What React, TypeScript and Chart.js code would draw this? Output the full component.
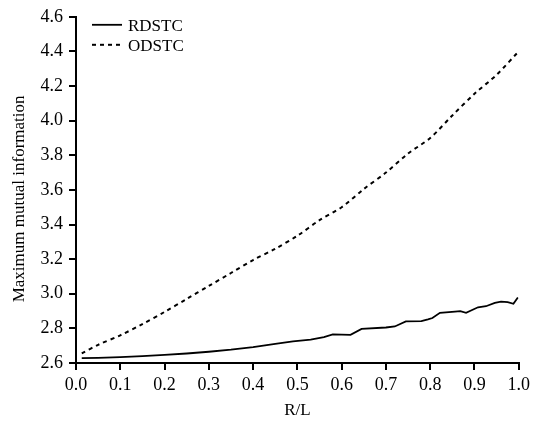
import React, { useEffect, useRef } from "react";
import { Chart, registerables } from "chart.js";

Chart.register(...registerables);

const xTitle = "R/L";
const yTitle = "Maximum mutual information";
const seriesNames = ["RDSTC", "ODSTC"];

const rdstcX = [0.013, 0.05, 0.1, 0.15, 0.2, 0.25, 0.3, 0.35, 0.4, 0.45, 0.49, 0.53, 0.56, 0.58, 0.62, 0.645, 0.7, 0.72, 0.745, 0.78, 0.795, 0.805, 0.822, 0.856, 0.868, 0.881, 0.908, 0.926, 0.946, 0.96, 0.975, 0.988, 0.998];
const rdstcY = [2.628, 2.630, 2.634, 2.640, 2.647, 2.655, 2.665, 2.677, 2.692, 2.710, 2.725, 2.735, 2.750, 2.765, 2.763, 2.797, 2.805, 2.811, 2.840, 2.842, 2.852, 2.860, 2.890, 2.897, 2.900, 2.890, 2.922, 2.928, 2.947, 2.955, 2.952, 2.942, 2.978];

const odstcX = [0.013, 0.05, 0.1, 0.15, 0.2, 0.25, 0.3, 0.35, 0.4, 0.45, 0.5, 0.55, 0.6, 0.65, 0.7, 0.75, 0.8, 0.85, 0.9, 0.95, 0.998];
const odstcY = [2.655, 2.705, 2.760, 2.825, 2.895, 2.970, 3.045, 3.120, 3.195, 3.260, 3.335, 3.425, 3.500, 3.605, 3.700, 3.810, 3.900, 4.030, 4.155, 4.265, 4.395];

const xMin = 0, xMax = 1, xStep = 0.1;
const yMin = 2.6, yMax = 4.6, yStep = 0.2;

const FONT = "'Liberation Serif', 'Times New Roman', serif";

const legendPlugin = {
  id: "customLegend",
  afterDraw(chart: any) {
    const ctx = chart.ctx;
    const area = chart.chartArea;
    const x0 = area.left + 16;
    const lineLen = 30;
    const y0 = area.top + 8;
    const gap = 20;
    chart.data.datasets.forEach((ds: any, i: number) => {
      const y = y0 + i * gap;
      ctx.save();
      ctx.strokeStyle = ds.borderColor;
      ctx.lineWidth = ds.borderWidth;
      ctx.setLineDash(ds.borderDash || []);
      ctx.beginPath();
      ctx.moveTo(x0, y);
      ctx.lineTo(x0 + lineLen, y);
      ctx.stroke();
      ctx.setLineDash([]);
      ctx.fillStyle = "#000";
      ctx.font = `17px ${FONT}`;
      ctx.textBaseline = "middle";
      ctx.textAlign = "left";
      ctx.fillText(ds.label, x0 + lineLen + 6, y + 2);
      ctx.restore();
    });
    // y-axis title
    ctx.save();
    ctx.translate(20, (area.top + area.bottom) / 2 + 9);
    ctx.rotate(-Math.PI / 2);
    ctx.fillStyle = "#000";
    ctx.font = `17px ${FONT}`;
    ctx.textAlign = "center";
    ctx.textBaseline = "middle";
    ctx.fillText(yTitle, 0, 0);
    ctx.restore();
  },
};

export default function App() {
  const ref = useRef<HTMLCanvasElement>(null);
  useEffect(() => {
    if (!ref.current) return;
    const chart = new Chart(ref.current, {
      type: "line",
      data: {
        datasets: [
          {
            label: seriesNames[0],
            data: rdstcX.map((x, i) => ({ x, y: rdstcY[i] })),
            borderColor: "#000",
            borderWidth: 1.8,
            pointRadius: 0,
            tension: 0,
            fill: false,
          },
          {
            label: seriesNames[1],
            data: odstcX.map((x, i) => ({ x, y: odstcY[i] })),
            borderColor: "#000",
            borderWidth: 2,
            borderDash: [4, 4],
            pointRadius: 0,
            tension: 0.3,
            fill: false,
          },
        ],
      },
      options: {
        animation: false,
        responsive: false,
        layout: { padding: { left: 0, right: 13, top: 15, bottom: 0 } },
        plugins: { legend: { display: false }, tooltip: { enabled: false } },
        scales: {
          x: {
            type: "linear",
            min: xMin,
            max: xMax,
            afterFit: (s: any) => { s.height = 58; },
            border: { display: true, color: "#000", width: 2 },
            grid: { display: true, drawOnChartArea: false, drawTicks: true, tickLength: 7, color: "#000", lineWidth: 2 },
            ticks: {
              stepSize: xStep,
              padding: 4,
              color: "#000",
              font: { family: FONT, size: 18 },
              callback: (v: any) => Number(v).toFixed(1),
              maxRotation: 0,
            },
            title: { display: true, text: xTitle, color: "#000", font: { family: FONT, size: 17 }, padding: { top: 0, bottom: 0 } },
          },
          y: {
            type: "linear",
            min: yMin,
            max: yMax,
            afterFit: (s: any) => { s.width = 76; },
            border: { display: true, color: "#000", width: 2 },
            grid: { display: true, drawOnChartArea: false, drawTicks: true, tickLength: 7, color: "#000", lineWidth: 2 },
            ticks: {
              stepSize: yStep,
              padding: 6,
              color: "#000",
              font: { family: FONT, size: 18 },
              callback: (v: any) => Number(v).toFixed(1),
            },
            title: { display: false },
          },
        },
      },
      plugins: [legendPlugin],
    });
    return () => chart.destroy();
  }, []);
  return (
    <div style={{ position: "absolute", left: 0, top: 0, width: 534, height: 421, background: "#fff" }}>
      <canvas ref={ref} width={534} height={421} style={{ display: "block" }} />
    </div>
  );
}
